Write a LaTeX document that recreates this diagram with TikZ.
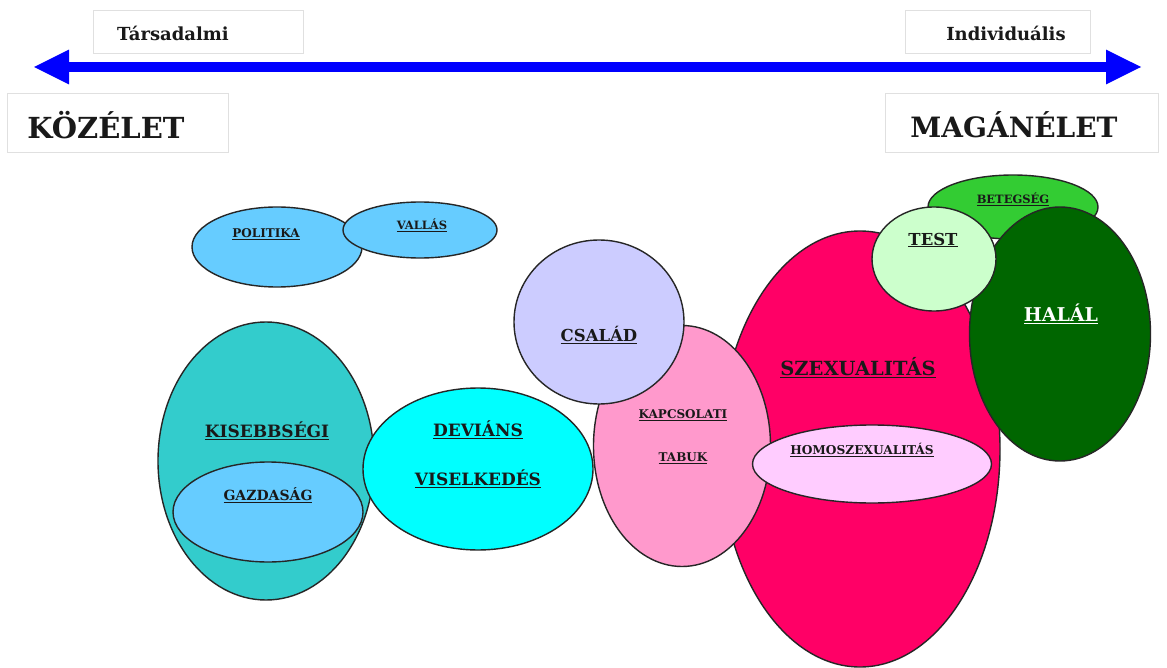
\documentclass[tikz,border=0pt]{standalone}
\usepackage{fontspec}
\setmainfont{DejaVu Serif}
\usetikzlibrary{arrows.meta,shapes.geometric}
\definecolor{lblue}{HTML}{66CCFF}
\definecolor{teal2}{HTML}{33CCCC}
\definecolor{cyan2}{HTML}{00FFFF}
\definecolor{lav}{HTML}{CCCCFF}
\definecolor{pink2}{HTML}{FF99CC}
\definecolor{szex}{HTML}{FF0066}
\definecolor{homo}{HTML}{FFCCFF}
\definecolor{bet}{HTML}{33CC33}
\definecolor{testc}{HTML}{CCFFCC}
\definecolor{halal}{HTML}{006600}
\definecolor{arrowblue}{HTML}{0000FF}
\begin{document}
\begin{tikzpicture}[x=1pt,y=-1pt,
  blob/.style={ellipse,draw=black!85,line width=1.4pt,inner sep=0pt},
  lbl/.style={text=black!90,font=\bfseries,inner sep=0pt},
  headbox/.style={draw=black!12,line width=0.8pt,fill=white},
  headtxt/.style={text=black!90,font=\bfseries,inner sep=0pt}]
\useasboundingbox[fill=white] (0,0) rectangle (1167,668);

% header boxes
\node[headbox,minimum width=210pt,minimum height=43pt] (tbox) at (198,31.5) {};
\node[headtxt,font=\bfseries\fontsize{18}{20}\selectfont] (tars) at (173,33) {Társadalmi};
\node[headbox,minimum width=185pt,minimum height=43pt] (ibox) at (997.5,31.5) {};
\node[headtxt,font=\bfseries\fontsize{18}{20}\selectfont] (indiv) at (1006,33) {Individuális};
\node[headbox,minimum width=221pt,minimum height=59pt] (kbox) at (117.5,122.5) {};
\node[headtxt,font=\bfseries\fontsize{29}{31}\selectfont] (koz) at (106,125) {KÖZÉLET};
\node[headbox,minimum width=273pt,minimum height=59pt] (mbox) at (1021.5,122.5) {};
\node[headtxt,font=\bfseries\fontsize{28}{30}\selectfont] (mag) at (1014,125) {MAGÁNÉLET};

% axis arrow
\coordinate (aL) at (33,67);
\coordinate (aR) at (1142,67);
\draw[arrowblue,line width=10pt,{Triangle[length=36pt,width=32pt]}-{Triangle[length=36pt,width=32pt]}] (aL) -- (aR);

% ellipses (drawing order matters)
\node[blob,fill=lblue,minimum width=170pt,minimum height=80pt] (pol) at (277,247) {};
\node[blob,fill=lblue,minimum width=154pt,minimum height=56pt] (val) at (420,230) {};
\node[blob,fill=teal2,minimum width=216pt,minimum height=278pt] (kis) at (266,461) {};
\node[blob,fill=cyan2,minimum width=230pt,minimum height=162pt] (dev) at (478,469) {};
\node[blob,fill=lblue,minimum width=190pt,minimum height=100pt] (gaz) at (268,512) {};
\node[blob,fill=bet,minimum width=170pt,minimum height=64pt] (bet) at (1013,207) {};
\node[blob,fill=szex,minimum width=280pt,minimum height=436pt] (sz) at (860,449) {};
\node[blob,fill=pink2,minimum width=177pt,minimum height=241pt] (kap) at (682,446) {};
\node[blob,fill=lav,minimum width=170pt,minimum height=164pt] (csa) at (599,322) {};
\node[blob,fill=homo,minimum width=239pt,minimum height=78pt] (hom) at (872,464) {};
\node[blob,fill=halal,minimum width=181pt,minimum height=254pt] (hal) at (1060,334) {};
\node[blob,fill=testc,minimum width=124pt,minimum height=104pt] (tst) at (934,259) {};

% labels
\node[lbl,font=\bfseries\fontsize{12}{14}\selectfont] (tpol) at (266,234) {\underline{POLITIKA}};
\node[lbl,font=\bfseries\fontsize{11.5}{14}\selectfont] (tval) at (422,225) {\underline{VALLÁS}};
\node[lbl,font=\bfseries\fontsize{17}{20}\selectfont] (tkis) at (267,431) {\underline{KISEBBSÉGI}};
\node[lbl,font=\bfseries\fontsize{14}{16}\selectfont] (tgaz) at (268,495) {\underline{GAZDASÁG}};
\node[lbl,font=\bfseries\fontsize{17}{20}\selectfont] (tdev1) at (478,430) {\underline{DEVIÁNS}};
\node[lbl,font=\bfseries\fontsize{17}{20}\selectfont] (tdev2) at (478,479) {\underline{VISELKEDÉS}};
\node[lbl,font=\bfseries\fontsize{16.5}{20}\selectfont] (tcsa) at (599,335) {\underline{CSALÁD}};
\node[lbl,font=\bfseries\fontsize{12}{14}\selectfont] (tkap1) at (683,415) {\underline{KAPCSOLATI}};
\node[lbl,font=\bfseries\fontsize{12}{14}\selectfont] (tkap2) at (683,458) {\underline{TABUK}};
\node[lbl,font=\bfseries\fontsize{19.5}{22}\selectfont] (tsz) at (858,368) {\underline{SZEXUALITÁS}};
\node[lbl,font=\bfseries\fontsize{12.2}{14}\selectfont] (thom) at (862,450) {\underline{HOMOSZEXUALITÁS}};
\node[lbl,font=\bfseries\fontsize{11.5}{14}\selectfont] (tbet) at (1013,199) {\underline{BETEGSÉG}};
\node[lbl,font=\bfseries\fontsize{16.5}{20}\selectfont] (ttst) at (933,240) {\underline{TEST}};
\node[lbl,text=white,font=\bfseries\fontsize{19}{22}\selectfont] (thal) at (1061,314) {\underline{HALÁL}};
\end{tikzpicture}
\end{document}
